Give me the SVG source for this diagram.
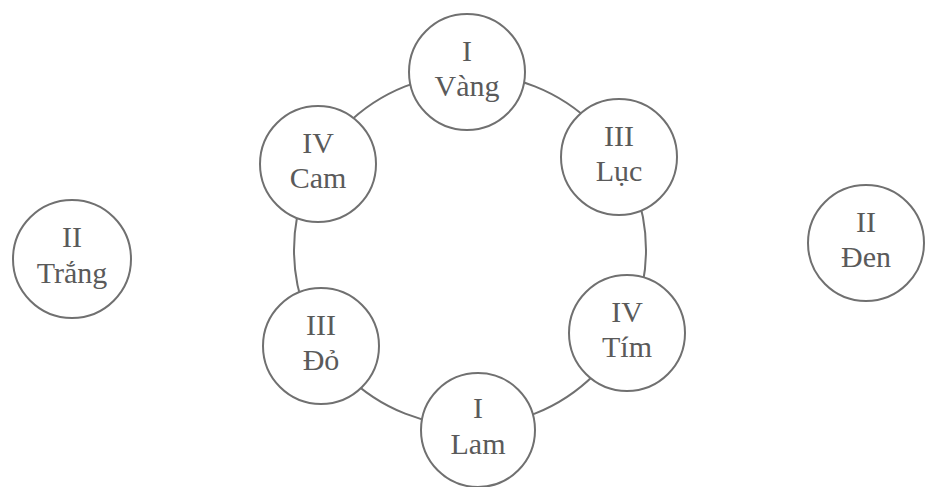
<svg xmlns="http://www.w3.org/2000/svg" width="927" height="487" viewBox="0 0 927 487">
<style>
.node circle{fill:#fff;stroke:#707070;stroke-width:2}
.node text{font-family:"Liberation Serif","DejaVu Serif",serif;font-size:30px;fill:#5a5a5a;text-anchor:middle}
.ring{fill:none;stroke:#707070;stroke-width:2}
</style>
<rect width="927" height="487" fill="#fff"/>
<g id="connectors">
<circle class="ring" cx="470" cy="250" r="176"/>
</g>
<g id="vang" class="node"><circle cx="467" cy="72" r="58"/><text x="467" y="61">I</text><text x="467" y="96">Vàng</text></g>
<g id="luc" class="node"><circle cx="619" cy="157" r="58"/><text x="619" y="146">III</text><text x="619" y="181">Lục</text></g>
<g id="tim" class="node"><circle cx="627" cy="333" r="58"/><text x="627" y="322">IV</text><text x="627" y="357">Tím</text></g>
<g id="lam" class="node"><circle cx="478" cy="430" r="57"/><text x="478" y="418">I</text><text x="478" y="454">Lam</text></g>
<g id="do" class="node"><circle cx="321" cy="346" r="58"/><text x="321" y="335">III</text><text x="321" y="370">Đỏ</text></g>
<g id="cam" class="node"><circle cx="318" cy="164" r="58"/><text x="318" y="153">IV</text><text x="318" y="188">Cam</text></g>
<g id="trang" class="node"><circle cx="72" cy="259" r="59"/><text x="72" y="247">II</text><text x="72" y="283">Trắng</text></g>
<g id="den" class="node"><circle cx="866" cy="243" r="58"/><text x="866" y="232">II</text><text x="866" y="267">Đen</text></g>
</svg>
